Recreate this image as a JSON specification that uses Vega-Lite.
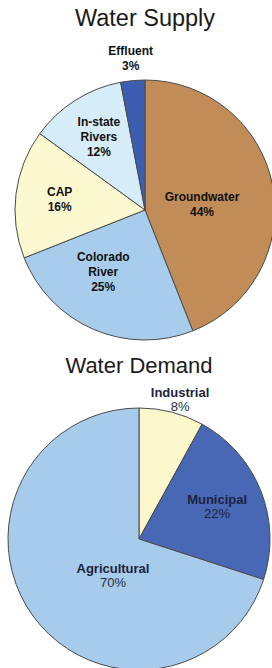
{
  "$schema": "https://vega.github.io/schema/vega-lite/v6.json",
  "padding": {"top": 6, "left": 0, "right": 0, "bottom": 0},
  "background": "white",
  "spacing": 4,
  "config": {"view": {"stroke": null}},
  "resolve": {"scale": {"color": "independent", "theta": "independent"}},
  "vconcat": [
    {
      "width": 290,
      "height": 280,
      "title": {"text": "Water Supply", "frame": "group", "font": "Liberation Sans, Arial, sans-serif", "fontSize": 23.5, "fontWeight": "normal", "color": "#1a1a1a", "anchor": "middle", "offset": 15},
      "data": {"values": [
        {"source": "Groundwater", "pct": 44, "rank": 1},
        {"source": "Colorado River", "pct": 25, "rank": 2},
        {"source": "CAP", "pct": 16, "rank": 3},
        {"source": "In-state Rivers", "pct": 12, "rank": 4},
        {"source": "Effluent", "pct": 3, "rank": 5}
      ]},
      "transform": [
        {"stack": "pct", "groupby": [], "sort": [{"field": "rank", "order": "ascending"}], "as": ["t0", "t1"]},
        {"calculate": "(datum.t0 + datum.t1) / 2", "as": "tmid"},
        {"calculate": "replace(datum.source, ' ', '\\n') + '\\n' + datum.pct + '%'", "as": "label"}
      ],
      "layer": [
        {
          "mark": {"type": "arc", "outerRadius": 130, "stroke": "#4a4a4a", "strokeWidth": 1},
          "encoding": {
            "theta": {"field": "t0", "type": "quantitative", "scale": {"domain": [0, 100]}},
            "theta2": {"field": "t1"},
            "color": {"field": "source", "type": "nominal", "legend": null,
              "scale": {"domain": ["Groundwater", "Colorado River", "CAP", "In-state Rivers", "Effluent"],
                        "range": ["#c18c58", "#a8cdec", "#fcf8cf", "#d6ecf8", "#3d5eb0"]}}
          }
        },
        {
          "transform": [{"filter": "datum.source === 'Groundwater'"}],
          "mark": {"type": "text", "radius": 58, "dy": -2, "font": "Liberation Sans", "fontWeight": "bold", "fontSize": 12, "lineBreak": "\n", "lineHeight": 15, "fill": "#111111"},
          "encoding": {
            "theta": {"field": "tmid", "type": "quantitative"},
            "text": {"field": "label", "type": "nominal"}
          }
        },
        {
          "transform": [{"filter": "datum.source === 'Colorado River'"}],
          "mark": {"type": "text", "radius": 75, "dx": -12, "dy": -22, "font": "Liberation Sans", "fontWeight": "bold", "fontSize": 12, "lineBreak": "\n", "lineHeight": 15, "fill": "#111111"},
          "encoding": {
            "theta": {"field": "tmid", "type": "quantitative"},
            "text": {"field": "label", "type": "nominal"}
          }
        },
        {
          "transform": [{"filter": "datum.source === 'CAP'"}],
          "mark": {"type": "text", "radius": 86, "dy": -7.5, "font": "Liberation Sans", "fontWeight": "bold", "fontSize": 12, "lineBreak": "\n", "lineHeight": 15, "fill": "#111111"},
          "encoding": {
            "theta": {"field": "tmid", "type": "quantitative"},
            "text": {"field": "label", "type": "nominal"}
          }
        },
        {
          "transform": [{"filter": "datum.source === 'In-state Rivers'"}],
          "mark": {"type": "text", "radius": 86, "dy": -15, "font": "Liberation Sans", "fontWeight": "bold", "fontSize": 12, "lineBreak": "\n", "lineHeight": 15, "fill": "#111111"},
          "encoding": {
            "theta": {"field": "tmid", "type": "quantitative"},
            "text": {"field": "label", "type": "nominal"}
          }
        },
        {
          "transform": [{"filter": "datum.source === 'Effluent'"}],
          "mark": {"type": "text", "radius": 152, "dy": -7.5, "font": "Liberation Sans", "fontWeight": "bold", "fontSize": 12, "lineBreak": "\n", "lineHeight": 15, "fill": "#111111"},
          "encoding": {
            "theta": {"field": "tmid", "type": "quantitative"},
            "text": {"field": "label", "type": "nominal"}
          }
        }
      ]
    },
    {
      "width": 278,
      "height": 262,
      "title": {"text": "Water Demand", "frame": "group", "font": "Liberation Sans, Arial, sans-serif", "fontSize": 22, "fontWeight": "normal", "color": "#1a1a1a", "anchor": "middle", "offset": 9},
      "data": {"values": [
        {"use": "Industrial", "pct": 8, "rank": 1},
        {"use": "Municipal", "pct": 22, "rank": 2},
        {"use": "Agricultural", "pct": 70, "rank": 3}
      ]},
      "transform": [
        {"stack": "pct", "groupby": [], "sort": [{"field": "rank", "order": "ascending"}], "as": ["t0", "t1"]},
        {"calculate": "(datum.t0 + datum.t1) / 2", "as": "tmid"},
        {"calculate": "datum.pct + '%'", "as": "pctLabel"}
      ],
      "layer": [
        {
          "mark": {"type": "arc", "outerRadius": 131, "stroke": "#4a4a4a", "strokeWidth": 1},
          "encoding": {
            "theta": {"field": "t0", "type": "quantitative", "scale": {"domain": [0, 100]}},
            "theta2": {"field": "t1"},
            "color": {"field": "use", "type": "nominal", "legend": null,
              "scale": {"domain": ["Industrial", "Municipal", "Agricultural"],
                        "range": ["#fdf7cc", "#4868b5", "#a7cbea"]}}
          }
        },
        {
          "transform": [{"filter": "datum.use === 'Industrial'"}],
          "mark": {"type": "text", "radius": 145, "dx": 5, "dy": -6, "font": "Liberation Sans", "fontWeight": "bold", "fontSize": 13, "fill": "#1c2340"},
          "encoding": {"theta": {"field": "tmid", "type": "quantitative"}, "text": {"field": "use", "type": "nominal"}}
        },
        {
          "transform": [{"filter": "datum.use === 'Industrial'"}],
          "mark": {"type": "text", "radius": 145, "dx": 5, "dy": 8, "font": "Liberation Sans", "fontSize": 13, "fill": "#2a2f45"},
          "encoding": {"theta": {"field": "tmid", "type": "quantitative"}, "text": {"field": "pctLabel", "type": "nominal"}}
        },
        {
          "transform": [{"filter": "datum.use === 'Municipal'"}],
          "mark": {"type": "text", "radius": 84, "dy": -8, "font": "Liberation Sans", "fontWeight": "bold", "fontSize": 13, "fill": "#1c2340"},
          "encoding": {"theta": {"field": "tmid", "type": "quantitative"}, "text": {"field": "use", "type": "nominal"}}
        },
        {
          "transform": [{"filter": "datum.use === 'Municipal'"}],
          "mark": {"type": "text", "radius": 84, "dy": 6, "font": "Liberation Sans", "fontSize": 13, "fill": "#1c2340"},
          "encoding": {"theta": {"field": "tmid", "type": "quantitative"}, "text": {"field": "pctLabel", "type": "nominal"}}
        },
        {
          "transform": [{"filter": "datum.use === 'Agricultural'"}],
          "mark": {"type": "text", "radius": 47, "dx": 12, "dy": 2, "font": "Liberation Sans", "fontWeight": "bold", "fontSize": 13, "fill": "#1c2340"},
          "encoding": {"theta": {"field": "tmid", "type": "quantitative"}, "text": {"field": "use", "type": "nominal"}}
        },
        {
          "transform": [{"filter": "datum.use === 'Agricultural'"}],
          "mark": {"type": "text", "radius": 47, "dx": 12, "dy": 16, "font": "Liberation Sans", "fontSize": 13, "fill": "#2a2f45"},
          "encoding": {"theta": {"field": "tmid", "type": "quantitative"}, "text": {"field": "pctLabel", "type": "nominal"}}
        }
      ]
    }
  ]
}
